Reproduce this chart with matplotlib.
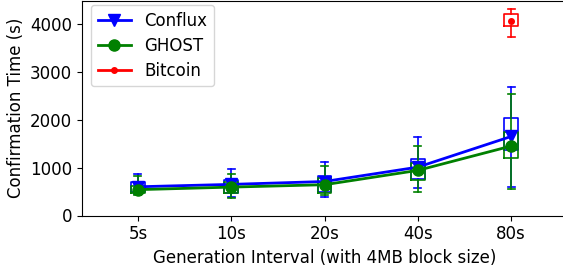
import matplotlib
matplotlib.use("Agg")
import matplotlib.pyplot as plt

categories = ["5s", "10s", "20s", "40s", "80s"]

# Conflux stats
conflux_mean = [600, 650, 710, 1010, 1650]
conflux_q1 = [500, 470, 490, 770, 1360]
conflux_q3 = [690, 750, 820, 1190, 2030]
conflux_lo = [450, 385, 385, 580, 590]
conflux_hi = [870, 975, 1115, 1640, 2680]

# GHOST stats
ghost_mean = [540, 593, 643, 942, 1450]
ghost_q1 = [470, 468, 480, 733, 1195]
ghost_q3 = [620, 698, 780, 1103, 1740]
ghost_lo = [420, 365, 420, 490, 545]
ghost_hi = [820, 873, 1033, 1445, 2530]

# Bitcoin stats (only 80s)
bitcoin_idx = [4]
bitcoin_mean = [4070]
bitcoin_q1 = [3965]
bitcoin_q3 = [4210]
bitcoin_lo = [3720]
bitcoin_hi = [4315]

fig = plt.figure(figsize=(5.63, 2.71), dpi=100)
ax = fig.add_axes([82/563, 55.5/271, 485/563, 214.5/271])

def stats(mean, q1, q3, lo, hi):
    return [dict(med=m, q1=a, q3=b, whislo=l, whishi=h, fliers=[], mean=m)
            for m, a, b, l, h in zip(mean, q1, q3, lo, hi)]

def draw_box(st, pos, color):
    ax.bxp(st, positions=pos, widths=0.15, showfliers=False, showmeans=False,
           boxprops=dict(color=color, linewidth=1.2),
           whiskerprops=dict(color=color, linewidth=1.2),
           capprops=dict(color=color, linewidth=1.2),
           medianprops=dict(linewidth=0), manage_ticks=False)

pos = list(range(len(categories)))
draw_box(stats(conflux_mean, conflux_q1, conflux_q3, conflux_lo, conflux_hi), pos, "blue")
draw_box(stats(ghost_mean, ghost_q1, ghost_q3, ghost_lo, ghost_hi), pos, "green")
draw_box(stats(bitcoin_mean, bitcoin_q1, bitcoin_q3, bitcoin_lo, bitcoin_hi), bitcoin_idx, "red")

l1, = ax.plot(pos, conflux_mean, color="blue", marker="v", markersize=8, linewidth=2, label="Conflux")
l2, = ax.plot(pos, ghost_mean, color="green", marker="o", markersize=8, linewidth=2, label="GHOST")
l3, = ax.plot(bitcoin_idx, bitcoin_mean, color="red", marker="o", markersize=4, linewidth=2, label="Bitcoin")

ax.set_xticks(pos)
ax.set_xticklabels(categories, fontsize=12)
ax.set_xlim(-0.6, 4.6)
ax.set_ylim(0, 4480)
ax.set_yticks([0, 1000, 2000, 3000, 4000])
ax.tick_params(labelsize=12)
ax.set_xlabel("Generation Interval (with 4MB block size)", fontsize=12)
ax.set_ylabel("Confirmation Time (s)", fontsize=12)
ax.legend(handles=[l1, l2, l3], loc="upper left", numpoints=1, fontsize=12,
          labelspacing=0.42, borderaxespad=0,
          bbox_to_anchor=(91/563, 1 - 5/271), bbox_transform=fig.transFigure)

fig.savefig("out.png", dpi=100)
